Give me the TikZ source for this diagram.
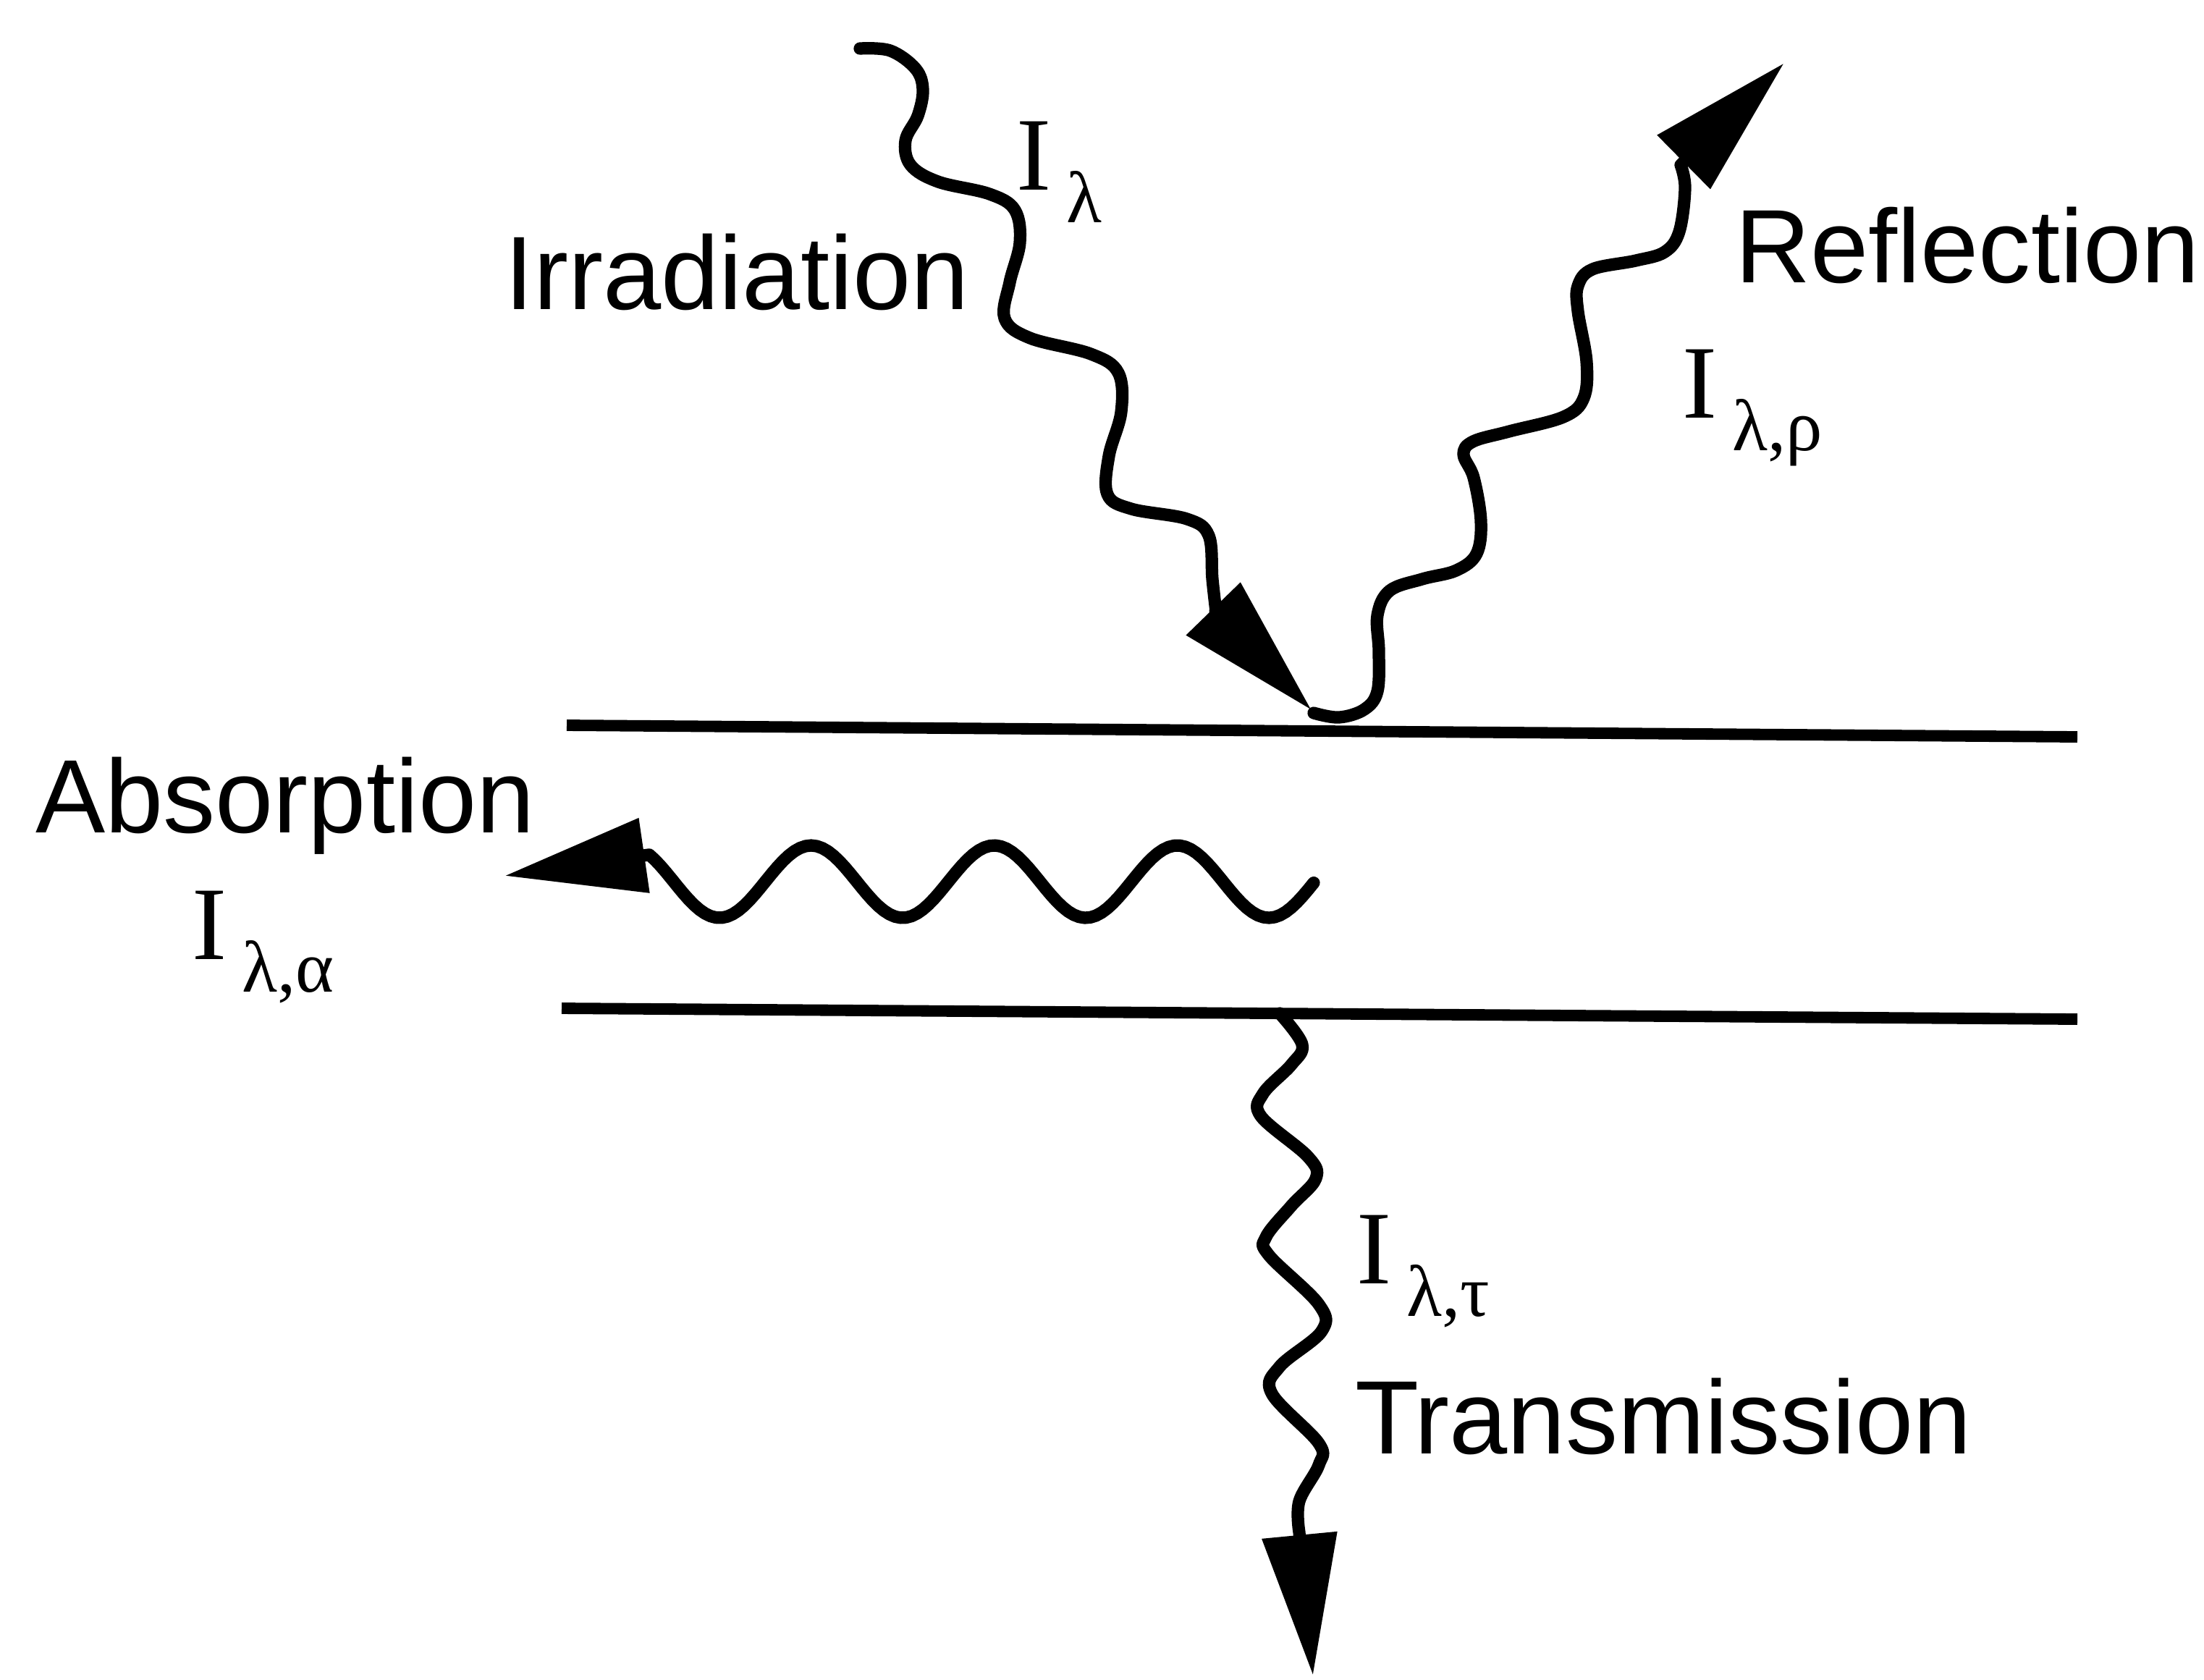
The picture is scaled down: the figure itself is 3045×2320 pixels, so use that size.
\documentclass[tikz,border=0pt]{standalone}
\usepackage[no-math]{fontspec}
\setmainfont{Liberation Sans}
\newfontfamily\serifI{Liberation Serif}
\usetikzlibrary{arrows.meta}
\definecolor{ink}{HTML}{000000}
\newcommand{\flux}[1]{{\serifI I\hspace{0.21cm}%
  \raisebox{-0.45cm}{\fontsize{28.7}{30}\selectfont #1}}}

\begin{document}
\begin{tikzpicture}[
    x=0.01cm, y=-0.01cm,
    >={Triangle[length=1.95cm, width=1.0cm]},
    every node/.style={font=\fontsize{41}{49}\selectfont, inner sep=0pt,
                       text=ink},
    surface/.style={draw=ink, line width=4.5pt},
    ray/.style={draw=ink, line width=4.9pt, line join=round,
                line cap=round},
    word/.style={anchor=base},
    sym/.style={anchor=base west},
    ]

\useasboundingbox (0,0) rectangle (3045,2320);
\fill[white] (0,0) rectangle (3045,2320);

% ====================================================================
% Slab: upper and lower surfaces
% ====================================================================
\draw[surface] (783,1002) -- (2870,1018);
\draw[surface] (776,1393) -- (2870,1408);

% ====================================================================
% Irradiation (incoming ray)
% ====================================================================
\draw[ray, ->] plot[smooth, tension=0.6] coordinates {
    (1188,67) (1230,70) (1265,95) (1275,124) (1268,160) (1251,194)
    (1258,228) (1296,251) (1367,268) (1402,290) (1409,335) (1395,390)
    (1388,440) (1423,467) (1507,489) (1545,515) (1549,569) (1532,630)
    (1530,683) (1563,703) (1640,717) (1670,740) (1675,800) (1680,845)}
  -- (1812,981);

\node[word] (irrad) at (1018,427) {Irradiation};
\node[sym] (Ilam) at (1404,262) {\flux{λ}};

% ====================================================================
% Reflection (outgoing ray)
% ====================================================================
\draw[ray, ->] plot[smooth, tension=0.6] coordinates {
    (1815,985) (1850,991) (1885,980) (1903,955) (1905,900) (1903,850)
    (1920,816) (1965,800) (2012,788) (2040,765) (2046,720) (2036,660)
    (2022,628) (2035,610) (2085,596) (2160,576) (2188,550) (2192,500)
    (2180,430) (2180,395) (2200,372) (2260,360) (2300,348) (2320,320)
    (2328,260) (2322,228)}
  -- (2465,87);

\node[word] (refl) at (2718,390) {Reflection};
\node[sym] (Irho) at (2324,577) {\flux{λ,ρ}};

% ====================================================================
% Absorption (wave inside the slab)
% ====================================================================
\draw[ray, <-] (697,1210) -- plot[domain=897:1815, samples=120]
  (\x, {1218 + 50*cos((\x-994)*1.4229)});

\node[word] (absorb) at (394,1150) {Absorption};
\node[sym] (Ialpha) at (265,1325) {\flux{λ,α}};

% ====================================================================
% Transmission (ray leaving the lower surface)
% ====================================================================
\draw[ray, ->] plot[smooth, tension=0.6] coordinates {
    (1768,1400) (1799,1443) (1784,1471) (1745,1511) (1742,1542)
    (1807,1598) (1818,1628) (1784,1666) (1749,1709) (1753,1734)
    (1822,1802) (1826,1839) (1768,1888) (1757,1925) (1822,1994)
    (1822,2024) (1795,2074) (1795,2117)}
  -- (1814,2315);

\node[sym] (Itau) at (1874,1773) {\flux{λ,τ}};
\node[word] (transm) at (2298,2008) {Transmission};

\end{tikzpicture}
\end{document}
